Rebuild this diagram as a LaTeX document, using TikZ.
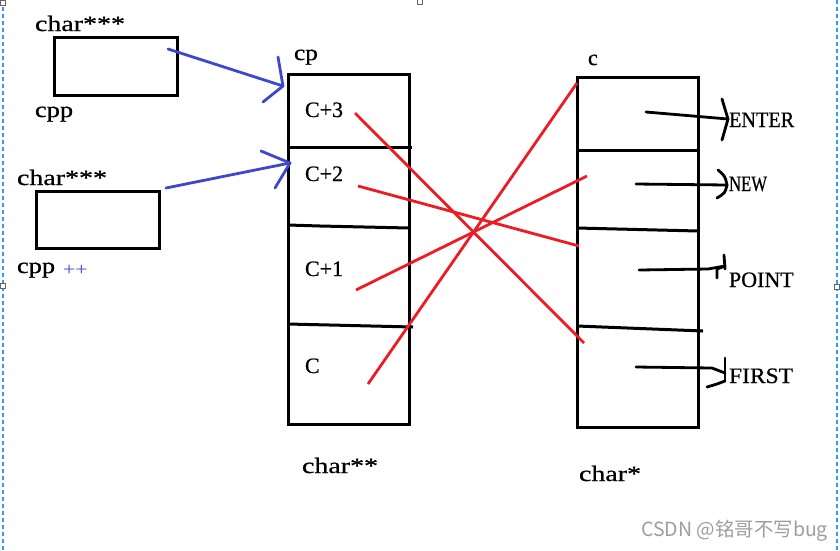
\documentclass[tikz,border=0pt]{standalone}
\usepackage{fontspec}
\usepackage{graphicx}
\setmainfont{Liberation Serif}[FakeBold=0.6]
\newfontfamily\plainfont{Liberation Serif}
\newfontfamily\cjkfont{Noto Sans CJK SC}
\definecolor{pred}{RGB}{237,28,36}
\definecolor{pblue}{RGB}{63,72,204}
\definecolor{selblue}{RGB}{51,153,255}
\newcommand{\sx}[2]{\scalebox{#1}[1]{#2}}
\tikzset{
  box/.style={draw=black, line width=3pt, rectangle, inner sep=0pt, outer sep=0pt},
  lbl/.style={anchor=base west, inner sep=0pt, outer sep=0pt, font=\fontsize{22pt}{26pt}\selectfont},
  divider/.style={draw=black, line width=3pt},
  redline/.style={draw=pred, line width=2.8pt},
  blueline/.style={draw=pblue, line width=2.8pt, line cap=round, line join=round},
  blackarrow/.style={draw=black, line width=2.8pt, line cap=round, line join=round},
  selline/.style={draw=selblue, line width=1.3pt, dash pattern=on 4pt off 3pt},
  handle/.style={draw=black!60, line width=0.8pt, fill=white, rectangle, minimum size=5pt, inner sep=0pt}
}
\begin{document}
\begin{tikzpicture}[x=1pt,y=-1pt]
\useasboundingbox[fill=white] (0,0) rectangle (840,550);

% selection frame
\coordinate (selTL) at (3,0);
\coordinate (selBL) at (3,550);
\coordinate (selTR) at (837,0);
\coordinate (selBR) at (837,550);
\draw[selline] (selTL) -- (selBL);
\draw[selline] (selTR) -- (selBR);
\node[handle] (h1) at (3,3) {};
\node[handle] (h2) at (420,2) {};
\node[handle] (h3) at (3,286) {};
\node[handle] (h4) at (837,287) {};

% left boxes
\node[box, minimum width=123pt, minimum height=58pt] (cppA) at (115.5,66) {};
\node[box, minimum width=123pt, minimum height=57pt] (cppB) at (97.5,219.5) {};
\node[lbl] (tA) at (35,31) {\sx{1.27}{char***}};
\node[lbl] (nA) at (35,117) {\sx{1.2}{cpp}};
\node[lbl] (tB) at (17,185) {\sx{1.27}{char***}};
\node[lbl] (nB) at (17,273) {\sx{1.2}{cpp}};
\node[anchor=base west, inner sep=0pt, text=pblue, font=\plainfont\fontsize{18pt}{20pt}\selectfont] (pp) at (63,275) {\sx{1.2}{++}};

% middle column
\node[box, minimum width=121pt, minimum height=350pt] (cpcol) at (348.5,249) {};
\node[lbl] (cpl) at (294,60) {\sx{1.15}{cp}};
\coordinate (mdA1) at (288,147); \coordinate (mdA2) at (412,147);
\coordinate (mdB1) at (288,225); \coordinate (mdB2) at (320,226); \coordinate (mdB3) at (409,228);
\coordinate (mdC1) at (288,324); \coordinate (mdC2) at (413,327);
\draw[divider] (mdA1) -- (mdA2);
\draw[divider] (mdB1) -- (mdB2) -- (mdB3);
\draw[divider] (mdC1) -- (mdC2);
\node[lbl] (c3) at (305,117) {C+3};
\node[lbl] (c2) at (305,181) {C+2};
\node[lbl] (c1) at (305,276) {C+1};
\node[lbl] (c0) at (305,373) {C};
\node[lbl] (cpt) at (302,473) {\sx{1.27}{char**}};

% right column
\node[box, minimum width=121pt, minimum height=350pt] (ccol) at (637.5,252) {};
\node[lbl] (cl) at (588,65) {c};
\coordinate (rdA1) at (577,150); \coordinate (rdA2) at (700,150);
\coordinate (rdB1) at (577,228); \coordinate (rdB2) at (698,231);
\coordinate (rdC1) at (577,326); \coordinate (rdC2) at (703,331);
\draw[divider] (rdA1) -- (rdA2);
\draw[divider] (rdB1) -- (rdB2);
\draw[divider] (rdC1) -- (rdC2);
\node[lbl] (ct) at (579,481) {\sx{1.27}{char*}};

% blue arrows
\coordinate (bA1) at (168,49); \coordinate (bAt) at (283,86);
\coordinate (bAh1) at (278,57); \coordinate (bAh2) at (263,102);
\draw[blueline] (bA1) -- (bAt);
\draw[blueline] (bAh1) -- (bAt) -- (bAh2);
\coordinate (bB1) at (166,188); \coordinate (bBt) at (290,163);
\coordinate (bBh1) at (261,151); \coordinate (bBh2) at (275,188);
\draw[blueline] (bB1) -- (bBt);
\draw[blueline] (bBh1) -- (bBt) -- (bBh2);

% red crossing lines
\coordinate (r3a) at (355,113); \coordinate (r3b) at (584,343);
\coordinate (r2a) at (358,186); \coordinate (r2b) at (579,246);
\coordinate (r1a) at (356,290); \coordinate (r1b) at (587,176);
\coordinate (r0a) at (368,384); \coordinate (r0b) at (577,83);
\draw[redline] (r3a) -- (r3b);
\draw[redline] (r2a) -- (r2b);
\draw[redline] (r1a) -- (r1b);
\draw[redline] (r0a) -- (r0b);

% black arrows to strings
\node[lbl] (enter) at (729,127) {\sx{0.92}{ENTER}};
\node[lbl] (new) at (729,191) {\sx{0.76}{NEW}};
\node[lbl] (point) at (729,287) {POINT};
\node[lbl] (first) at (729,383) {\sx{1.07}{FIRST}};

\coordinate (kE1) at (646,112); \coordinate (kEt) at (728,119);
\coordinate (kEh1) at (722,99); \coordinate (kEh2) at (722,140);
\draw[blackarrow] (kE1) -- (kEt);
\draw[blackarrow] (kEh1) -- (kEt) -- (kEh2);

\coordinate (kN1) at (636,184); \coordinate (kNt) at (727,185);
\coordinate (kNh1) at (718,170); \coordinate (kNh2) at (717,198);
\draw[blackarrow] (kN1) -- (kNt);
\draw[blackarrow] (kNh1) .. controls (725,176) .. (kNt) .. controls (725,193) .. (kNh2);

\coordinate (kP1) at (639,270); \coordinate (kP2) at (708,269); \coordinate (kPt) at (725,266);
\coordinate (kPv1) at (724,255); \coordinate (kPv2) at (725,269);
\coordinate (kPh1) at (717,278); \coordinate (kPh2) at (717,269);
\draw[blackarrow] (kP1) -- (kP2) -- (kPt);
\draw[blackarrow] (kPv1) -- (kPv2);
\draw[blackarrow] (kPh1) -- (kPh2) -- (kPt);

\coordinate (kF1) at (636,367); \coordinate (kF2) at (712,368); \coordinate (kFt) at (725,373);
\coordinate (kFv1) at (725,358); \coordinate (kFv2) at (725,381);
\coordinate (kFh1) at (707,387); \coordinate (kFh2) at (717,384);
\draw[blackarrow] (kF1) -- (kF2) -- (kFt);
\draw[blackarrow] (kFv1) -- (kFv2);
\draw[blackarrow] (kFh1) -- (kFh2) -- (kFv2);

% watermark
\node[anchor=base west, inner sep=0pt, text=black!38, font=\cjkfont\fontsize{19.5pt}{22pt}\selectfont] (wm) at (641,536) {CSDN @铭哥不写bug};
\end{tikzpicture}
\end{document}
